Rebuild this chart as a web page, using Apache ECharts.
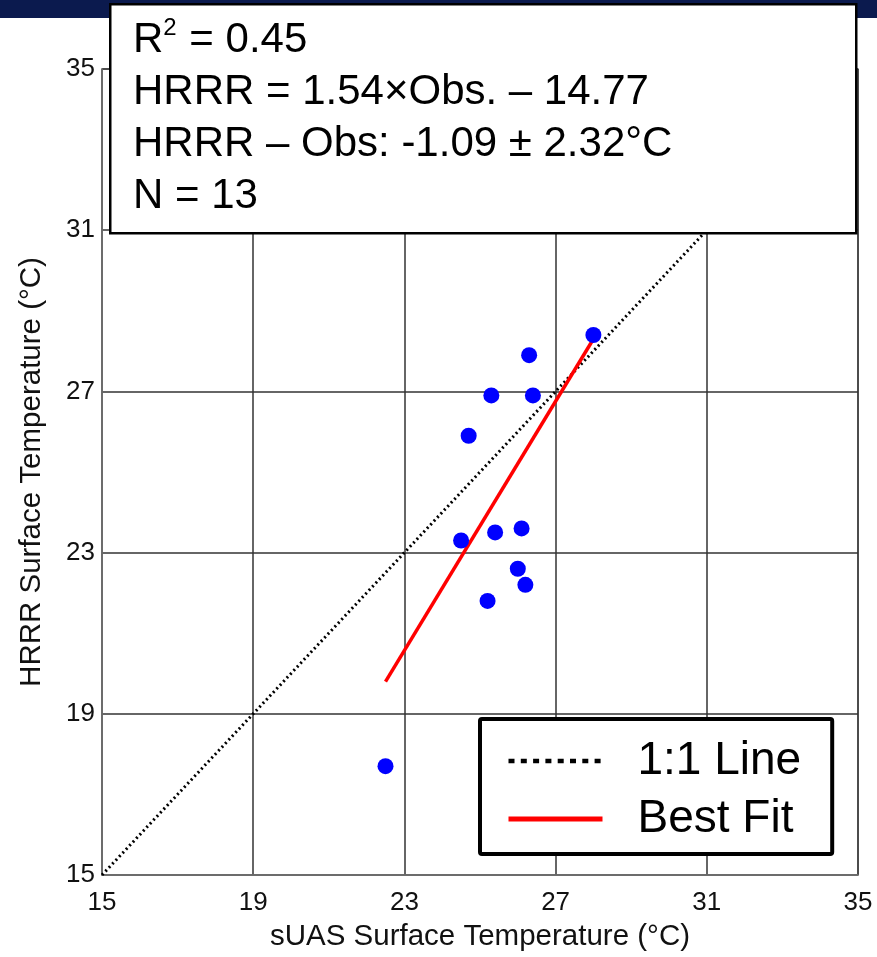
<!DOCTYPE html>
<html>
<head>
<meta charset="utf-8">
<script src="https://cdn.jsdelivr.net/npm/echarts@6/dist/echarts.min.js"></script>
<style>
  html, body { margin: 0; padding: 0; background: #fff; }
  #chart { width: 877px; height: 957px; }
</style>
</head>
<body>
<div id="chart"></div>
<script>
// sUAS obs (x) vs HRRR (y)
const obsTemp = [28.0, 26.3, 25.3, 26.4, 24.7, 24.5, 25.4, 26.1, 26.0, 26.2, 25.2, 22.5];
const hrrrTemp = [28.4, 27.9, 26.9, 26.9, 25.9, 23.3, 23.5, 23.6, 22.6, 22.2, 21.8, 17.7];

const oneToOneX = [15, 35];
const oneToOneY = [15, 35];

const fitX = [22.5, 28.0];
const fitY = [19.8, 28.3];

const statLines = [
  "R{sup|2} = 0.45",
  "HRRR = 1.54×Obs. – 14.77",
  "HRRR – Obs: -1.09 ± 2.32°C",
  "N = 13",
];

const font = "Liberation Sans, Arial, Helvetica, sans-serif";

let chart = echarts.init(document.getElementById("chart"), null, { renderer: "canvas" });

let option = {
  backgroundColor: "#fff",
  animation: false,
  grid: {
    left: 102,
    right: 19,
    top: 69,
    bottom: 78,
    show: true,
    borderColor: "#777",
    borderWidth: 1.5,
  },
  xAxis: {
    type: "value",
    min: 15,
    max: 35,
    interval: 4,
    name: "sUAS Surface Temperature (°C)",
    nameLocation: "middle",
    nameGap: 47,
    nameTextStyle: { fontFamily: font, fontSize: 29.5, color: "#111" },
    axisLine: { show: true, lineStyle: { color: "#777", width: 1.5 } },
    axisTick: { show: false },
    axisLabel: { fontFamily: font, fontSize: 26, color: "#111", margin: 15 },
    splitLine: { show: true, lineStyle: { color: "#333", width: 1.5 } },
  },
  yAxis: {
    type: "value",
    min: 15,
    max: 35,
    interval: 4,
    name: "HRRR Surface Temperature (°C)",
    nameLocation: "middle",
    nameGap: 55,
    nameTextStyle: { fontFamily: font, fontSize: 29.5, color: "#111" },
    axisLine: { show: true, lineStyle: { color: "#777", width: 1.5 } },
    axisTick: { show: false },
    axisLabel: { fontFamily: font, fontSize: 26, color: "#111", margin: 7 },
    splitLine: { show: true, lineStyle: { color: "#333", width: 1.5 } },
  },
  legend: {
    left: 480,
    top: 719,
    orient: "vertical",
    data: [
      { name: "1:1 Line", lineStyle: { color: "#000", width: 4.5, type: [6, 6.3] }, itemStyle: { opacity: 0 } },
      { name: "Best Fit", lineStyle: { color: "#ff0000", width: 5 }, itemStyle: { opacity: 0 } },
    ],
    backgroundColor: "#fff",
    borderColor: "#000",
    borderWidth: 4,
    borderRadius: 2,
    padding: [19, 31, 12, 26],
    itemGap: 12,
    itemWidth: 94,
    itemHeight: 20,
    textStyle: { fontFamily: font, fontSize: 46, lineHeight: 46, color: "#000", padding: [0, 0, 0, 30] },
    selectedMode: false,
  },
  series: [
    {
      name: "1:1 Line",
      type: "line",
      data: oneToOneX.map((x, i) => [x, oneToOneY[i]]),
      symbol: "none",
      itemStyle: { color: "#000" },
      lineStyle: { color: "#000", width: 3, type: [2, 3] },
      z: 3,
    },
    {
      name: "Best Fit",
      type: "line",
      data: fitX.map((x, i) => [x, fitY[i]]),
      symbol: "none",
      itemStyle: { color: "#ff0000" },
      lineStyle: { color: "#ff0000", width: 3.5 },
      z: 4,
    },
    {
      name: "HRRR vs sUAS",
      type: "scatter",
      data: obsTemp.map((x, i) => [x, hrrrTemp[i]]),
      symbol: "circle",
      symbolSize: 16,
      itemStyle: { color: "#0000ff", opacity: 1 },
      z: 5,
    },
  ],
  graphic: [
    {
      type: "rect",
      left: 0,
      top: 0,
      shape: { width: 877, height: 18 },
      style: { fill: "#0b1a4e" },
      z: 90,
    },
    {
      type: "rect",
      left: 109,
      top: 3,
      shape: { x: 0, y: 0, width: 746, height: 229 },
      style: { fill: "#fff", stroke: "#000", lineWidth: 2.5 },
      z: 100,
    },
    {
      type: "text",
      left: 133,
      top: 14,
      z: 101,
      style: {
        text: statLines.join("\n"),
        fontFamily: font,
        fontSize: 42,
        lineHeight: 52,
        fill: "#000",
        rich: {
          sup: { fontFamily: font, fontSize: 24, lineHeight: 24, verticalAlign: "top", padding: [2, 1, 0, 0] },
        },
      },
    },
  ],
};

chart.setOption(option);
window.addEventListener("resize", chart.resize);
</script>
</body>
</html>
